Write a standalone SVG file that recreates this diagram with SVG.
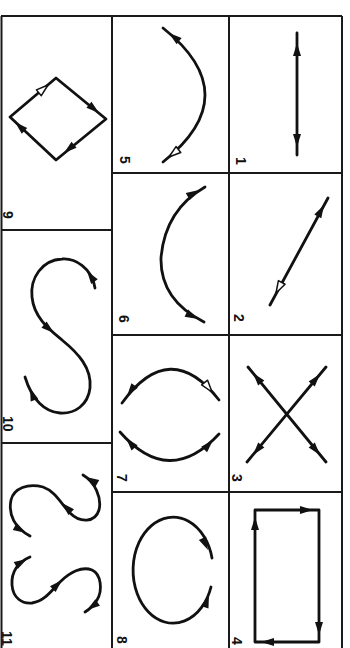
<svg xmlns="http://www.w3.org/2000/svg" xmlns:xlink="http://www.w3.org/1999/xlink" width="350" height="648" viewBox="0 0 350 648">
<style>
.grid{stroke:#1a1a1a;stroke-width:2;fill:none}
.ln{stroke:#111;stroke-width:2.8;fill:none;stroke-linecap:round;stroke-linejoin:round}
.lbl{font-family:"Liberation Sans",Arial,sans-serif;font-size:14px;font-weight:bold;fill:#111}
</style>
<defs>
<path id="ah" d="M0,0 L-13,-4 L-13,4 Z" fill="#111"/>
<path id="aho" d="M0,0 L-12,-3.8 L-12,3.8 Z" fill="#fff" stroke="#111" stroke-width="1.5" stroke-linejoin="round"/>
</defs>
<rect width="350" height="648" fill="#fff"/>
<g id="grid" class="grid">
<path d="M1,16 H342 M1.5,16 V648 M112,16 V648 M229,16 V648 M342,16 V648 M112,173 H342 M112,335 H342 M112,492 H342 M1.5,230 H112 M1.5,443 H112"/>
</g>
<g id="cell1">
<path class="ln" d="M297,33 V155"/>
<use xlink:href="#ah" transform="translate(297,43) rotate(-90)"/>
<use xlink:href="#ah" transform="translate(297,147) rotate(90)"/>
<text class="lbl" transform="translate(236,157) rotate(90)">1</text>
</g>
<g id="cell2">
<path class="ln" d="M328,198 L270,305"/>
<use xlink:href="#ah" transform="translate(324,205) rotate(-61.5)"/>
<use xlink:href="#aho" transform="translate(276,293) rotate(118.5)"/>
<text class="lbl" transform="translate(234,314) rotate(90)">2</text>
</g>
<g id="cell3">
<path class="ln" d="M248,367 L326,462 M326,367 L247,462"/>
<use xlink:href="#ah" transform="translate(253,373) rotate(230.6)"/>
<use xlink:href="#ah" transform="translate(320,455) rotate(50.6)"/>
<use xlink:href="#ah" transform="translate(320,374) rotate(-50.3)"/>
<use xlink:href="#ah" transform="translate(253,455) rotate(129.7)"/>
<text class="lbl" transform="translate(232,474) rotate(90)">3</text>
</g>
<g id="cell4">
<path class="ln" d="M255,510 H319 V642 H255 Z"/>
<use xlink:href="#ah" transform="translate(313,510)"/>
<use xlink:href="#ah" transform="translate(319,635) rotate(90)"/>
<use xlink:href="#ah" transform="translate(261,642) rotate(180)"/>
<use xlink:href="#ah" transform="translate(255,517) rotate(-90)"/>
<text class="lbl" transform="translate(232,637) rotate(90)">4</text>
</g>
<g id="cell5">
<path class="ln" d="M163,28 Q247,95 163,162"/>
<use xlink:href="#ah" transform="translate(169,33) rotate(219)"/>
<use xlink:href="#aho" transform="translate(169,157) rotate(141.4)"/>
<text class="lbl" transform="translate(120,156) rotate(90)">5</text>
</g>
<g id="cell6">
<path class="ln" d="M205,187 Q165,210 161,258 Q160,300 204,322"/>
<use xlink:href="#ah" transform="translate(199,190) rotate(-30)"/>
<use xlink:href="#ah" transform="translate(198,319) rotate(26.6)"/>
<text class="lbl" transform="translate(119,315) rotate(90)">6</text>
</g>
<g id="cell7">
<path class="ln" d="M122,403 Q170,337 219,400 M120,432 Q169,488 219,434"/>
<use xlink:href="#ah" transform="translate(127,396) rotate(126)"/>
<use xlink:href="#aho" transform="translate(212,392) rotate(52)"/>
<use xlink:href="#ah" transform="translate(126,438) rotate(228.8)"/>
<use xlink:href="#ah" transform="translate(213,440) rotate(-47.2)"/>
<text class="lbl" transform="translate(117,474) rotate(90)">7</text>
</g>
<g id="cell8">
<path class="ln" d="M212,558 A40,53 0 1 0 211,587"/>
<use xlink:href="#ah" transform="translate(208,550) rotate(65)"/>
<use xlink:href="#ah" transform="translate(209,595) rotate(-70.6)"/>
<text class="lbl" transform="translate(117,636) rotate(90)">8</text>
</g>
<g id="cell9">
<path class="ln" d="M56,78 L106,119 L56,160 L10,117 Z"/>
<use xlink:href="#aho" transform="translate(48,85) rotate(-40.3)"/>
<use xlink:href="#ah" transform="translate(99,113) rotate(39.4)"/>
<use xlink:href="#ah" transform="translate(64,153) rotate(140.6)"/>
<use xlink:href="#ah" transform="translate(15,122) rotate(223.1)"/>
<text class="lbl" transform="translate(3,211) rotate(90)">9</text>
</g>
<g id="cell10">
<path class="ln" d="M95,288 C92,268 75,258 62,259 C42,260 30,278 32,297 C34,318 50,330 62,340 C78,353 92,368 90,388 C88,405 75,414 60,413 C45,412 32,400 25,377"/>
<use xlink:href="#ah" transform="translate(87,271) rotate(-125)"/>
<use xlink:href="#ah" transform="translate(54,333) rotate(40)"/>
<use xlink:href="#ah" transform="translate(30,388) rotate(-110)"/>
<text class="lbl" transform="translate(3,416) rotate(90)">10</text>
</g>
<g id="cell11">
<path class="ln" d="M30,536 C15,528 8,515 11,500 C14,488 28,483 43,487 C55,491 62,505 70,513 C80,523 95,523 99,510 C102,498 95,482 83,475"/>
<path class="ln" d="M30,557 C18,562 11,572 12,585 C13,598 22,604 32,603 C45,601 52,590 60,582 C70,572 82,566 92,570 C101,574 103,590 97,600 C94,605 90,609 85,612"/>
<use xlink:href="#ah" transform="translate(26,533) rotate(30)"/>
<use xlink:href="#ah" transform="translate(62,503) rotate(-135)"/>
<use xlink:href="#ah" transform="translate(86,477) rotate(210)"/>
<use xlink:href="#ah" transform="translate(27,559) rotate(-30)"/>
<use xlink:href="#ah" transform="translate(62,580) rotate(-45)"/>
<use xlink:href="#ah" transform="translate(87,610) rotate(145)"/>
<text class="lbl" transform="translate(2,631) rotate(90)">11</text>
</g>
</svg>
